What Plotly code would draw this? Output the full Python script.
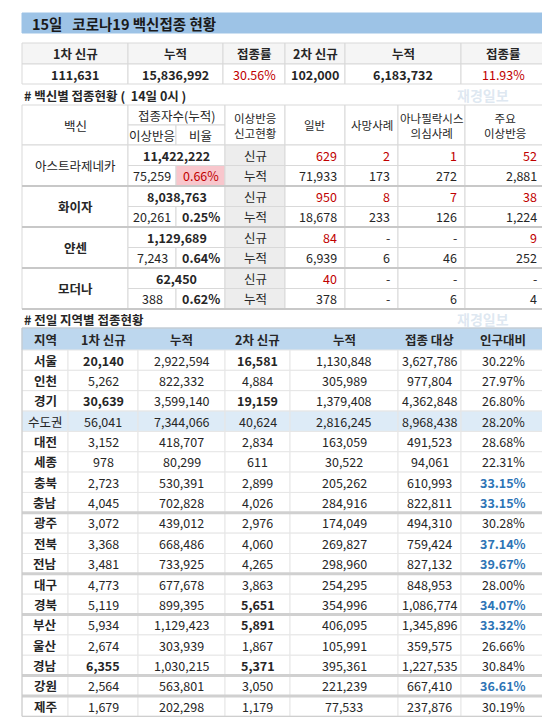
import plotly.graph_objects as go

# 상단 요약
top_headers = ["1차 신규", "누적", "접종률", "2차 신규", "누적", "접종률"]
top_values = ["111,631", "15,836,992", "30.56%", "102,000", "6,183,732", "11.93%"]

# 백신별 접종현황
vaccines = ["아스트라제네카", "화이자", "얀센", "모더나"]
vac_total = ["11,422,222", "8,038,763", "1,129,689", "62,450"]
vac_adverse = ["75,259", "20,261", "7,243", "388"]
vac_ratio = ["0.66%", "0.25%", "0.64%", "0.62%"]
vac_new = [["629", "2", "1", "52"], ["950", "8", "7", "38"],
           ["84", "-", "-", "9"], ["40", "-", "-", "-"]]
vac_cum = [["71,933", "173", "272", "2,881"], ["18,678", "233", "126", "1,224"],
           ["6,939", "6", "46", "252"], ["378", "-", "6", "4"]]

# 지역별 접종현황
reg_headers = ["지역", "1차 신규", "누적", "2차 신규", "누적", "접종 대상", "인구대비"]
regions = ["서울", "인천", "경기", "수도권", "대전", "세종", "충북", "충남", "광주",
           "전북", "전남", "대구", "경북", "부산", "울산", "경남", "강원", "제주"]
first_new = ["20,140", "5,262", "30,639", "56,041", "3,152", "978", "2,723", "4,045", "3,072",
             "3,368", "3,481", "4,773", "5,119", "5,934", "2,674", "6,355", "2,564", "1,679"]
first_cum = ["2,922,594", "822,332", "3,599,140", "7,344,066", "418,707", "80,299", "530,391",
             "702,828", "439,012", "668,486", "733,925", "677,678", "899,395", "1,129,423",
             "303,939", "1,030,215", "563,801", "202,298"]
second_new = ["16,581", "4,884", "19,159", "40,624", "2,834", "611", "2,899", "4,026", "2,976",
              "4,060", "4,265", "3,863", "5,651", "5,891", "1,867", "5,371", "3,050", "1,179"]
second_cum = ["1,130,848", "305,989", "1,379,408", "2,816,245", "163,059", "30,522", "205,262",
              "284,916", "174,049", "269,827", "298,960", "254,295", "354,996", "406,095",
              "105,991", "395,361", "221,239", "77,533"]
target = ["3,627,786", "977,804", "4,362,848", "8,968,438", "491,523", "94,061", "610,993",
          "822,811", "494,310", "759,424", "827,132", "848,953", "1,086,774", "1,345,896",
          "359,575", "1,227,535", "667,410", "237,876"]
pop_ratio = ["30.22%", "27.97%", "26.80%", "28.20%", "28.68%", "22.31%", "33.15%", "33.15%",
             "30.28%", "37.14%", "39.67%", "28.00%", "34.07%", "33.32%", "26.66%", "30.84%",
             "36.61%", "30.19%"]
bold_first = ["서울", "경기", "경남"]
bold_second = ["서울", "경기", "경북", "부산", "경남"]
blue_ratio = ["충북", "충남", "전북", "전남", "경북", "부산", "강원"]
group_end = ["충남", "전남", "경북", "경남", "강원"]

FONT = "Noto Sans CJK KR"
DARK = "#262626"
RED = "#C00000"
BLUE = "#2E75B6"
LINE = "#D9D9D9"

fig = go.Figure()
shapes = []
annos = []


def cell(x0, x1, y0, y1, fill="white", line=LINE):
    shapes.append(dict(type="rect", x0=x0, x1=x1, y0=y0, y1=y1, fillcolor=fill,
                       line=dict(color=line, width=1), layer="below"))


def txt(x, y, s, anchor="center", color=DARK, bold=False, size=12.5):
    annos.append(dict(x=x, y=y, text=f"<b>{s}</b>" if bold else s, showarrow=False,
                      xanchor=anchor, yanchor="middle",
                      font=dict(family=FONT, size=size, color=color)))


# 제목
cell(14, 537, 5, 25, fill="#9DC3E6", line="#9DC3E6")
txt(22, 15, "15일   코로나19 백신접종 현황", anchor="left", bold=True, size=14.5, color="#1a1a1a")

# 상단 표
tc = [14, 120, 215, 277, 337, 453, 537]
for i in range(6):
    cell(tc[i], tc[i + 1], 35, 56, fill="#F5F5F5")
    cell(tc[i], tc[i + 1], 56, 76)
    mid = (tc[i] + tc[i + 1]) / 2
    txt(mid, 45.5, top_headers[i], bold=True)
    pct = top_values[i].endswith("%")
    txt(mid, 66, top_values[i], bold=not pct, color=RED if pct else DARK)

# 워터마크 (표 위 여백)
txt(475, 87, "재경일보", bold=True, size=14, color="rgba(170,195,220,0.4)")
txt(475, 311, "재경일보", bold=True, size=14, color="rgba(170,195,220,0.4)")

# 백신별
txt(14, 87, "# 백신별 접종현황 (  14일 0시 )", anchor="left", bold=True)
vc = [14, 120, 168, 217, 277, 337, 390, 457, 537]
cell(14, 120, 97, 137)
txt(67, 117, "백신")
cell(120, 217, 97, 117)
txt(168.5, 107, "접종자수(누적)")
cell(120, 168, 117, 137)
txt(144, 127, "이상반응")
cell(168, 217, 117, 137)
txt(192.5, 127, "비율")
heads = ["이상반응<br>신고현황", "일반", "사망사례", "아나필락시스<br>의심사례", "주요<br>이상반응"]
for j, h in enumerate(heads):
    cell(vc[j + 3], vc[j + 4], 97, 137)
    txt((vc[j + 3] + vc[j + 4]) / 2, 117, h, size=11.5)

bh = 41
for k, v in enumerate(vaccines):
    y0 = 137 + k * bh
    ym = y0 + bh / 2
    cell(14, 120, y0, y0 + bh)
    txt(67, ym, v, bold=(k > 0))
    cell(120, 217, y0, ym)
    txt(168.5, y0 + bh / 4, vac_total[k], bold=True)
    cell(120, 168, ym, y0 + bh)
    txt(144, ym + bh / 4, vac_adverse[k])
    red = k == 0
    cell(168, 217, ym, y0 + bh, fill="#F8C6CC" if red else "white")
    txt(192.5, ym + bh / 4, vac_ratio[k], bold=not red, color=RED if red else DARK)
    cell(217, 277, y0, ym, fill="#EDEDED")
    cell(217, 277, ym, y0 + bh, fill="#EDEDED")
    txt(247, y0 + bh / 4, "신규")
    txt(247, ym + bh / 4, "누적")
    for j in range(4):
        x0, x1 = vc[j + 4], vc[j + 5]
        cell(x0, x1, y0, ym)
        cell(x0, x1, ym, y0 + bh)
        nv = vac_new[k][j]
        txt(x1 - 6, y0 + bh / 4, nv, anchor="right", color=DARK if nv == "-" else RED)
        txt(x1 - 6, ym + bh / 4, vac_cum[k][j], anchor="right")
    shapes.append(dict(type="line", x0=14, x1=537, y0=y0 + bh, y1=y0 + bh,
                       line=dict(color="#C8C8C8", width=2)))

# 지역별
txt(14, 311, "# 전일 지역별 접종현황", anchor="left", bold=True)
rc = [14, 60, 130, 217, 282, 390, 453, 537]
for j, h in enumerate(reg_headers):
    cell(rc[j], rc[j + 1], 320, 342, fill="#BDD7EE", line="#BDD7EE")
    txt((rc[j] + rc[j + 1]) / 2, 331, h, bold=True)
rh = 20.35
cols = [first_new, first_cum, second_new, second_cum, target, pop_ratio]
for i, r in enumerate(regions):
    y0 = 342 + i * rh
    ym = y0 + rh / 2
    fill = "#DDEBF7" if r == "수도권" else "white"
    for j in range(7):
        cell(rc[j], rc[j + 1], y0, y0 + rh, fill=fill, line="#E6E6E6")
    txt(37, ym, r, bold=r != "수도권")
    for j, col in enumerate(cols):
        b = (j == 0 and r in bold_first) or (j == 2 and r in bold_second)
        color = DARK
        if j == 5 and r in blue_ratio:
            b, color = True, BLUE
        txt((rc[j + 1] + rc[j + 2]) / 2, ym, col[i], bold=b, color=color)
    if r in group_end:
        shapes.append(dict(type="line", x0=14, x1=537, y0=y0 + rh, y1=y0 + rh,
                           line=dict(color="#D0D0D0", width=3)))
shapes.append(dict(type="rect", x0=14, x1=537, y0=320, y1=342 + 18 * rh,
                   line=dict(color="#C8C8C8", width=1)))

fig.update_layout(
    width=550, height=720, margin=dict(l=0, r=0, t=0, b=0),
    paper_bgcolor="white", plot_bgcolor="white",
    shapes=shapes, annotations=annos, showlegend=False,
    xaxis=dict(range=[0, 550], visible=False, fixedrange=True),
    yaxis=dict(range=[720, 0], visible=False, fixedrange=True),
)
fig.write_html("out.html")
